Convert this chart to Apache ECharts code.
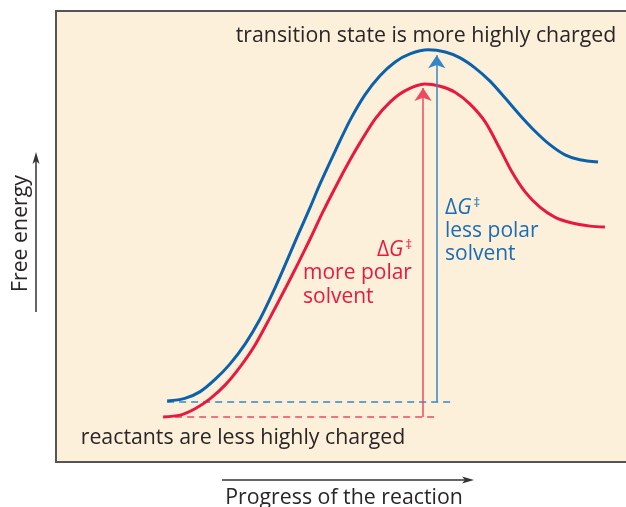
<!DOCTYPE html>
<html>
<head>
<meta charset="utf-8">
<script src="https://cdn.jsdelivr.net/npm/echarts@6/dist/echarts.min.js"></script>
<style>
  html, body { margin: 0; padding: 0; background: #ffffff; }
  #chart { width: 626px; height: 507px; }
</style>
</head>
<body>
<div id="chart"></div>
<script>
// Reaction coordinate (0–100) and free energy (0–100) for the two solvents
const progressLessPolar = [19.5, 22.6, 25.3, 27.9, 30.5, 33.2, 35.8, 38.1, 40.2, 42.3, 44.6, 46.3, 49.0, 51.6, 54.2, 56.8, 59.5, 62.1, 65.3, 68.3, 70.9, 73.5, 76.1, 78.8, 81.4, 84.0, 86.7, 89.3, 91.9, 95.1];
const energyLessPolar   = [13.5, 14.1, 15.6, 18.3, 21.7, 26.2, 31.7, 37.7, 43.7, 49.9, 56.5, 61.6, 69.0, 75.8, 81.4, 85.6, 88.7, 90.5, 91.4, 90.9, 89.6, 87.4, 84.5, 80.7, 76.9, 73.4, 70.3, 68.1, 67.0, 66.5];

const progressMorePolar = [18.8, 21.8, 24.4, 27.0, 29.7, 32.3, 34.9, 37.5, 40.2, 42.5, 44.6, 46.8, 49.3, 51.6, 53.3, 56.0, 58.6, 61.2, 64.7, 67.4, 70.0, 72.6, 75.3, 77.9, 80.0, 82.3, 84.9, 87.5, 90.2, 93.7, 96.3];
const energyMorePolar   = [10.0, 10.4, 11.8, 14.0, 17.1, 21.1, 25.9, 31.9, 38.4, 44.1, 49.5, 55.4, 61.6, 67.0, 70.7, 76.1, 79.8, 82.3, 83.8, 83.3, 82.0, 79.4, 75.4, 69.4, 64.3, 59.9, 56.5, 54.3, 53.1, 52.3, 52.1];

// Reactant baselines (level, start, end of the dashed guide) and activation arrows
const reactantLessPolar = { level: 13.3, from: 19.5, to: 70.0 };
const reactantMorePolar = { level: 10.0, from: 18.8, to: 67.0 };
const arrowLessPolar = { x: 66.8, from: 13.3, to: 90.2 };
const arrowMorePolar = { x: 64.4, from: 10.0, to: 82.9 };

const BLUE = '#0b62ab';
const BLUE_TEXT = '#1a6cb6';
const BLUE_LIGHT = '#3487c6';
const RED = '#e8193f';
const RED_LIGHT = '#ec4a60';
const INK = '#2a2627';
const FONT = '"Open Sans", "Noto Sans", sans-serif';
const TEXT_SIZE = 21.3;
const LABEL_SIZE = 21;

const pairs = (xs, ys) => xs.map((x, i) => [x, ys[i]]);

const chart = echarts.init(document.getElementById('chart'), null, { renderer: 'canvas' });

// ΔG‡ with an italic G and a raised double dagger
const deltaRich = (color) => ({
  d: { fontFamily: FONT, fontSize: LABEL_SIZE, fill: color },
  g: { fontFamily: FONT, fontSize: LABEL_SIZE, fontStyle: 'italic', fill: color },
  s: { fontFamily: FONT, fontSize: 13, fill: color, padding: [0, 0, 10, 2] }
});

chart.setOption({
  animation: false,
  backgroundColor: '#ffffff',
  grid: {
    left: 56, top: 11, width: 570, height: 451,
    outerBoundsMode: 'none', containLabel: false,
    show: true, backgroundColor: '#fdf0da', borderWidth: 0
  },
  xAxis: [{
    type: 'value', min: 0, max: 100, position: 'bottom',
    name: 'Progress of the reaction', nameLocation: 'middle', nameGap: 25,
    nameTextStyle: { fontFamily: FONT, fontSize: TEXT_SIZE, color: INK, padding: [0, 0, 0, 6] },
    axisLine: { show: true, onZero: false, lineStyle: { color: '#555555', width: 2 } },
    axisTick: { show: false }, axisLabel: { show: false }, splitLine: { show: false }
  }, {
    type: 'value', min: 0, max: 100, position: 'top',
    axisLine: { show: true, onZero: false, lineStyle: { color: '#555555', width: 2 } },
    axisTick: { show: false }, axisLabel: { show: false }, splitLine: { show: false }
  }],
  yAxis: {
    type: 'value', min: 0, max: 100,
    name: 'Free energy', nameLocation: 'middle', nameGap: 25, nameRotate: 90,
    nameTextStyle: { fontFamily: FONT, fontSize: TEXT_SIZE, color: INK, padding: [0, 0, 0, 6] },
    axisLine: { show: true, onZero: false, lineStyle: { color: '#555555', width: 2 } },
    axisTick: { show: false }, axisLabel: { show: false }, splitLine: { show: false }
  },
  series: [
    {
      name: 'less polar solvent', type: 'line', smooth: 0.3, symbol: 'none',
      data: pairs(progressLessPolar, energyLessPolar),
      lineStyle: { color: BLUE, width: 3 }, z: 3
    },
    {
      name: 'more polar solvent', type: 'line', smooth: 0.3, symbol: 'none',
      data: pairs(progressMorePolar, energyMorePolar),
      lineStyle: { color: RED, width: 3 }, z: 3
    },
    {
      name: 'reactant level, less polar', type: 'line', symbol: 'none',
      data: [[reactantLessPolar.from, reactantLessPolar.level], [reactantLessPolar.to, reactantLessPolar.level]],
      lineStyle: { color: BLUE_LIGHT, width: 1.5, type: [7, 5] }, z: 2
    },
    {
      name: 'reactant level, more polar', type: 'line', symbol: 'none',
      data: [[reactantMorePolar.from, reactantMorePolar.level], [reactantMorePolar.to, reactantMorePolar.level]],
      lineStyle: { color: RED_LIGHT, width: 1.5, type: [7, 5] }, z: 2
    },
    {
      name: 'activation energy', type: 'lines', coordinateSystem: 'cartesian2d',
      symbol: ['none', 'arrow'], symbolSize: [8, 13],
      data: [
        { coords: [[arrowLessPolar.x, arrowLessPolar.from], [arrowLessPolar.x, arrowLessPolar.to]],
          lineStyle: { color: BLUE_LIGHT, width: 1.5, opacity: 1 } },
        { coords: [[arrowMorePolar.x, arrowMorePolar.from], [arrowMorePolar.x, arrowMorePolar.to]],
          lineStyle: { color: RED_LIGHT, width: 1.5, opacity: 1 } }
      ],
      lineStyle: { opacity: 1 },
      z: 4
    }
  ],
  graphic: [
    // axis direction arrows
    { type: 'line', shape: { x1: 36, y1: 312, x2: 36, y2: 160 }, style: { stroke: '#333333', lineWidth: 1.5 } },
    { type: 'polygon', shape: { points: [[36, 152], [32.5, 164], [36, 161], [39.5, 164]] }, style: { fill: '#333333' } },
    { type: 'line', shape: { x1: 222, y1: 480, x2: 466, y2: 480 }, style: { stroke: '#333333', lineWidth: 1.5 } },
    { type: 'polygon', shape: { points: [[474, 480], [462, 476.5], [465, 480], [462, 483.5]] }, style: { fill: '#333333' } },
    // annotations
    { type: 'text', x: 426, y: 36, z: 10,
      style: { text: 'transition state is more highly charged', fontFamily: FONT, fontSize: TEXT_SIZE,
               fill: INK, align: 'center', verticalAlign: 'middle' } },
    { type: 'text', x: 243, y: 438, z: 10,
      style: { text: 'reactants are less highly charged', fontFamily: FONT, fontSize: TEXT_SIZE,
               fill: INK, align: 'center', verticalAlign: 'middle' } },
    { type: 'text', x: 412, y: 250, z: 10,
      style: { text: '{d|Δ}{g|G}{s|‡}', align: 'right', verticalAlign: 'middle', rich: deltaRich(RED) } },
    { type: 'text', x: 303, y: 285, z: 10,
      style: { text: 'more polar\nsolvent', fontFamily: FONT, fontSize: LABEL_SIZE, lineHeight: 24,
               fill: RED, align: 'left', verticalAlign: 'middle' } },
    { type: 'text', x: 445, y: 208, z: 10,
      style: { text: '{d|Δ}{g|G}{s|‡}', align: 'left', verticalAlign: 'middle', rich: deltaRich(BLUE_TEXT) } },
    { type: 'text', x: 445, y: 243, z: 10,
      style: { text: 'less polar\nsolvent', fontFamily: FONT, fontSize: LABEL_SIZE, lineHeight: 23,
               fill: BLUE_TEXT, align: 'left', verticalAlign: 'middle' } }
  ]
});
</script>
</body>
</html>
